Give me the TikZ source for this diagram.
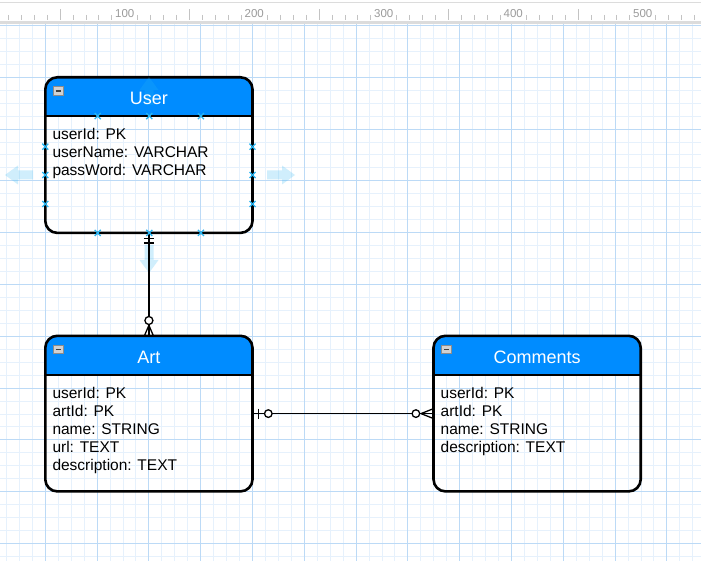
\documentclass[tikz,border=0pt]{standalone}
\usepackage{fontspec}
\setmainfont{Liberation Sans}
\usetikzlibrary{calc}

\definecolor{hdrblue}{HTML}{008CFF}
\definecolor{gridminor}{RGB}{230,241,252}
\definecolor{gridmajor}{RGB}{188,218,246}
\definecolor{handleblue}{HTML}{29B6F2}
\definecolor{rulerline}{RGB}{220,220,220}
\definecolor{tickgray}{RGB}{195,195,195}
\definecolor{rulertext}{RGB}{155,155,155}

% hover arrow pointing "up" in local coordinates, tip at the origin
\newcommand\hoverarrow[2]{%
  \begin{scope}[shift={#1}, rotate=#2]
    \fill[handleblue, fill opacity=0.22]
      (0,0) -- (9.5,13) -- (4.5,13) -- (4.5,28) -- (-4.5,28) -- (-4.5,13) -- (-9.5,13) -- cycle;
  \end{scope}}

\begin{document}
\begin{tikzpicture}[x=1pt,y=-1pt,
  entity/.style={shape=rectangle, minimum width=207.2pt, minimum height=155.6pt,
    inner sep=0pt, outer sep=0pt, anchor=north west},
  frame/.style={draw=black, line width=2.6pt, rounded corners=12pt},
  title/.style={font=\fontsize{18}{20}\selectfont, text=white, inner sep=0pt, anchor=base},
  field/.style={font=\fontsize{15.5}{18}\selectfont, inner sep=0pt, anchor=base west},
  rel/.style={draw=black, line width=1.3pt},
  minorline/.style={draw=gridminor, line width=1pt},
  majorline/.style={draw=gridmajor, line width=1pt},
  tickmark/.style={draw=tickgray, line width=0.8pt},
  rulerlabel/.style={font=\fontsize{11.5}{12}\selectfont, text=rulertext, inner sep=0pt, anchor=base west},
  handlex/.style={draw=handleblue, line width=1.3pt},
]
\useasboundingbox (0,0) rectangle (701,561);
\fill[white] (0,0) rectangle (701,561);

% ---- background grid ----
\foreach \i in {-3,...,50}
  \draw[minorline] ({45.3+12.95*\i},24) -- ({45.3+12.95*\i},561);
\foreach \j in {0,...,41}
  \draw[minorline] (0,{25.5+12.95*\j}) -- (701,{25.5+12.95*\j});
\foreach \i in {0,...,12}
  \draw[majorline] ({45.3+51.8*\i},24) -- ({45.3+51.8*\i},561);
\foreach \j in {0,...,10}
  \draw[majorline] (0,{25.5+51.8*\j}) -- (701,{25.5+51.8*\j});

% ---- ruler ----
\fill[white] (0,0) rectangle (701,21);
\draw[rulerline, line width=1pt] (0,2.5) -- (701,2.5);
\fill[rulerline] (0,21) rectangle (701,24.5);
\foreach \j in {-4,...,49}{
  \pgfmathtruncatemacro\rr{mod(\j+100,10)}
  \ifnum\rr=5 \else
    \ifnum\rr=0
      \draw[tickmark] ({60+12.95*\j},9.5) -- ({60+12.95*\j},20);
    \else
      \draw[tickmark] ({60+12.95*\j},15) -- ({60+12.95*\j},20);
    \fi
  \fi}
\foreach \k/\t in {0/100,1/200,2/300,3/400,4/500}
  \node[rulerlabel] (ruler-\t) at ({115+129.5*\k},17.3) {\t};

% ---- entities ----
\node[entity] (user) at (45.3,77.3) {};
\node[entity] (art) at (45.3,335.8) {};
\node[entity] (comments) at (433.5,335.8) {};

\foreach \e in {user,art,comments}{
  \begin{scope}
    \clip[rounded corners=12pt] (\e.north west) rectangle (\e.south east);
    \fill[hdrblue] (\e.north west) rectangle ($(\e.north east)+(0,38.8)$);
  \end{scope}
  \draw[line width=2.2pt] ($(\e.north west)+(0,38.8)$) -- ($(\e.north east)+(0,38.8)$);
  \draw[frame] (\e.north west) rectangle (\e.south east);
  % collapse icon
  \draw[draw=black!45, fill=black!18, line width=0.8pt]
    ($(\e.north west)+(8,9.5)$) rectangle ($(\e.north west)+(18,18)$);
  \draw[black!75, line width=1.4pt]
    ($(\e.north west)+(10.5,13.75)$) -- ($(\e.north west)+(15.5,13.75)$);
}

% ---- hover arrows around the User entity ----
\hoverarrow{(149,77)}{0}
\hoverarrow{(149,273)}{180}
\hoverarrow{(5,175)}{90}
\hoverarrow{(295,175)}{-90}

% ---- titles ----
\node[title] (user-title) at ($(user.north)+(0,27.4)$) {User};
\node[title] (art-title) at ($(art.north)+(0,27.6)$) {Art};
\node[title] (comments-title) at ($(comments.north)+(0,27.6)$) {Comments};

% ---- fields ----
\foreach \t [count=\i] in {userId: PK,userName: VARCHAR,passWord: VARCHAR}
  \node[field] (user-f\i) at ($(user.north west)+(7,{62.2+18*(\i-1)})$) {\t};
\foreach \t [count=\i] in {userId: PK,artId: PK,name: STRING,url: TEXT,description: TEXT}
  \node[field] (art-f\i) at ($(art.north west)+(7,{62.2+18*(\i-1)})$) {\t};
\foreach \t [count=\i] in {userId: PK,artId: PK,name: STRING,description: TEXT}
  \node[field] (comments-f\i) at ($(comments.north west)+(7,{62.2+18*(\i-1)})$) {\t};

% ---- relationships ----
% User (exactly one) -- Art (zero or many)
\draw[rel] (user.south) -- (art.north);
\draw[rel] ($(user.south)+(-5,5.6)$) -- ($(user.south)+(5,5.6)$);
\draw[rel] ($(user.south)+(-5,10)$) -- ($(user.south)+(5,10)$);
\draw[rel] ($(art.north)+(0,-10.5)$) -- ($(art.north)+(-4.5,0)$);
\draw[rel] ($(art.north)+(0,-10.5)$) -- ($(art.north)+(4.5,0)$);
\draw[rel, fill=white] ($(art.north)+(0,-15.3)$) circle (4pt);

% Art (zero or one) -- Comments (zero or many)
\draw[rel] (art.east) -- (comments.west);
\draw[rel] ($(art.east)+(5.8,-5)$) -- ($(art.east)+(5.8,5)$);
\draw[rel, fill=white] ($(art.east)+(15.8,0)$) circle (3.8pt);
\draw[rel] ($(comments.west)+(-12.5,0)$) -- ($(comments.west)+(0,-5)$);
\draw[rel] ($(comments.west)+(-12.5,0)$) -- ($(comments.west)+(0,5)$);
\draw[rel, fill=white] ($(comments.west)+(-17.6,0)$) circle (3.8pt);

% ---- connection point markers on the User entity ----
\foreach \dx/\dy in {52.4/38.8,104/38.8,155.6/38.8,
                     52.4/155.6,104/155.6,155.6/155.6,
                     0/69.4,0/97.7,0/126.7,
                     207.2/69.4,207.2/97.7,207.2/126.7}{
  \draw[handlex] ($(user.north west)+(\dx-3,\dy-3)$) -- ($(user.north west)+(\dx+3,\dy+3)$);
  \draw[handlex] ($(user.north west)+(\dx-3,\dy+3)$) -- ($(user.north west)+(\dx+3,\dy-3)$);
}
\end{tikzpicture}
\end{document}
